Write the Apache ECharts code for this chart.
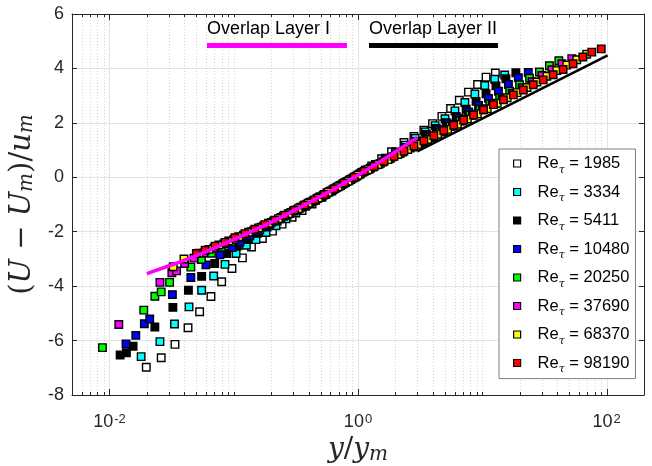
<!DOCTYPE html>
<html><head><meta charset="utf-8">
<script src="https://cdn.jsdelivr.net/npm/echarts@6/dist/echarts.min.js"></script>
<style>html,body{margin:0;padding:0;background:#fff}#c{width:652px;height:466px}</style>
</head><body><div id="c"></div>
<script>
// Series labels (Re_tau) and marker colours
const RE_LABELS = ['1985','3334','5411','10480','20250','37690','68370','98190'];
const COLORS = ['#ffffff','#00ffff','#000000','#0000ff','#00ff00','#ff00ff','#ffff00','#ff0000'];

// Re_tau = 1985
const X_1985 = [0.0198,0.0261,0.0337,0.0429,0.0532,0.0656,0.0800,0.0968,0.1175,0.139,0.170,0.205,0.245,0.295,0.355,0.427,0.513,0.617,0.741,0.891,1.072,1.288,1.549,1.862,2.344,2.818,3.388,3.981,4.732,5.559,6.531,7.745,9.162,10.72,12.74];
const Y_1985 = [-6.98,-6.63,-6.14,-5.53,-4.94,-4.38,-3.84,-3.35,-2.96,-2.56,-2.25,-1.98,-1.72,-1.47,-1.22,-0.98,-0.74,-0.51,-0.27,-0.06,0.18,0.42,0.68,0.94,1.28,1.50,1.73,1.97,2.24,2.53,2.83,3.13,3.41,3.68,3.83];
// Re_tau = 3334
const X_3334 = [0.0180,0.0255,0.0334,0.0437,0.0552,0.0690,0.0851,0.1045,0.1265,0.151,0.182,0.219,0.263,0.316,0.380,0.457,0.550,0.661,0.794,0.955,1.148,1.380,1.660,1.995,2.399,2.884,3.467,4.169,5.012,6.026,7.244,8.710,10.47,12.59,15.14];
const Y_3334 = [-6.59,-6.04,-5.39,-4.76,-4.15,-3.63,-3.20,-2.80,-2.50,-2.29,-2.03,-1.78,-1.53,-1.31,-1.07,-0.85,-0.63,-0.40,-0.19,0.02,0.26,0.47,0.70,0.93,1.18,1.43,1.67,1.90,2.15,2.44,2.75,3.06,3.37,3.60,3.76];
// Re_tau = 5411
const X_5411 = [0.0122,0.0137,0.0155,0.0232,0.0324,0.0432,0.0552,0.0703,0.0879,0.107,0.1288,0.155,0.186,0.224,0.269,0.324,0.389,0.468,0.562,0.676,0.813,0.977,1.175,1.413,1.698,2.042,2.455,2.951,3.548,4.266,5.129,6.166,7.413,8.913,10.72,12.88,15.49,18.62];
const Y_5411 = [-6.53,-6.45,-6.21,-5.50,-4.78,-4.15,-3.64,-3.17,-2.80,-2.53,-2.29,-2.06,-1.83,-1.61,-1.40,-1.19,-0.99,-0.78,-0.58,-0.37,-0.16,0.05,0.26,0.46,0.66,0.87,1.10,1.32,1.57,1.79,2.01,2.24,2.50,2.79,3.07,3.36,3.62,3.84];
// Re_tau = 10480
const X_10480 = [0.0136,0.0163,0.0191,0.0211,0.0321,0.0452,0.0598,0.0775,0.0975,0.1122,0.1349,0.162,0.195,0.234,0.282,0.339,0.407,0.490,0.589,0.708,0.851,1.023,1.230,1.479,1.778,2.138,2.570,3.090,3.715,4.467,5.370,6.457,7.762,9.333,11.22,13.49,16.22,19.50,23.44];
const Y_10480 = [-6.12,-5.81,-5.38,-5.21,-4.31,-3.68,-3.22,-2.85,-2.58,-2.38,-2.15,-1.94,-1.73,-1.53,-1.33,-1.13,-0.93,-0.73,-0.53,-0.32,-0.11,0.11,0.30,0.49,0.68,0.88,1.09,1.30,1.52,1.75,1.96,2.17,2.40,2.64,2.90,3.16,3.41,3.66,3.85];
// Re_tau = 20250
const X_20250 = [0.00879,0.0189,0.0232,0.0261,0.0305,0.0452,0.0550,0.0661,0.0794,0.0955,0.1148,0.138,0.166,0.200,0.240,0.288,0.347,0.417,0.501,0.603,0.724,0.871,1.047,1.259,1.514,1.820,2.188,2.630,3.162,3.802,4.571,5.495,6.607,7.943,9.550,11.48,13.80,16.60,19.95,23.99,28.84,34.67,41.3];
const Y_20250 = [-6.26,-4.88,-4.37,-4.21,-3.86,-3.30,-3.02,-2.79,-2.57,-2.38,-2.19,-2.00,-1.83,-1.66,-1.48,-1.29,-1.10,-0.91,-0.71,-0.50,-0.30,-0.08,0.13,0.33,0.51,0.70,0.88,1.07,1.26,1.46,1.66,1.87,2.08,2.29,2.50,2.70,2.92,3.16,3.40,3.64,3.87,4.10,4.28];
// Re_tau = 37690
const X_37690 = [0.0119,0.0255,0.0318,0.0347,0.0403,0.0479,0.0575,0.0692,0.0832,0.100,0.120,0.145,0.174,0.209,0.251,0.302,0.363,0.437,0.525,0.631,0.759,0.912,1.096,1.318,1.585,1.905,2.291,2.754,3.311,3.981,4.786,5.754,6.918,8.318,10.00,12.02,14.45,17.38,20.89,25.12,30.20,36.31,43.65,52.48];
const Y_37690 = [-5.41,-3.86,-3.51,-3.44,-3.17,-2.97,-2.78,-2.61,-2.45,-2.29,-2.13,-1.96,-1.79,-1.61,-1.43,-1.24,-1.05,-0.86,-0.66,-0.45,-0.24,-0.03,0.19,0.38,0.56,0.75,0.93,1.11,1.30,1.48,1.68,1.87,2.07,2.28,2.48,2.68,2.88,3.08,3.29,3.51,3.74,3.95,4.17,4.36];
// Re_tau = 68370
const X_68370 = [0.0326,0.0398,0.0525,0.0631,0.0759,0.0912,0.1096,0.1318,0.1585,0.1905,0.229,0.275,0.331,0.398,0.479,0.575,0.692,0.832,1.000,1.202,1.445,1.738,2.089,2.512,3.020,3.631,4.365,5.248,6.310,7.586,9.120,10.96,13.18,15.85,19.05,22.91,27.54,33.11,39.81,47.86,57.54,69.18];
const Y_68370 = [-3.29,-3.00,-2.79,-2.65,-2.49,-2.34,-2.18,-2.02,-1.86,-1.69,-1.52,-1.34,-1.15,-0.95,-0.76,-0.55,-0.35,-0.14,0.08,0.28,0.47,0.65,0.84,1.02,1.21,1.39,1.58,1.76,1.95,2.14,2.33,2.52,2.72,2.92,3.11,3.30,3.50,3.71,3.92,4.12,4.32,4.52];
// Re_tau = 98190
const X_98190 = [0.0501,0.0589,0.0708,0.0851,0.1023,0.1230,0.148,0.178,0.214,0.257,0.309,0.372,0.447,0.537,0.646,0.776,0.933,1.122,1.349,1.622,1.950,2.344,2.818,3.388,4.074,4.898,5.888,7.079,8.511,10.23,12.30,14.79,17.78,21.38,25.70,30.90,37.15,44.67,53.70,64.4,76.0,90.6];
const Y_98190 = [-2.80,-2.68,-2.53,-2.39,-2.22,-2.07,-1.91,-1.74,-1.58,-1.39,-1.21,-1.02,-0.83,-0.63,-0.42,-0.21,0.00,0.22,0.40,0.59,0.77,0.96,1.15,1.34,1.53,1.72,1.91,2.10,2.29,2.48,2.67,2.85,3.03,3.21,3.40,3.58,3.77,3.96,4.17,4.42,4.60,4.72];

// Overlap layer lines
const OVERLAP1_X = [0.02,0.035,0.06,0.1,0.18,0.32,0.6,1.1,1.8,3.0];
const OVERLAP1_Y = [-3.54,-3.15,-2.73,-2.29,-1.76,-1.18,-0.51,0.19,0.80,1.46];
const OVERLAP2_X = [3,102];
const OVERLAP2_Y = [0.95,4.48];

// Axis ticks
const X_MIN = 0.005, X_MAX = 200, Y_MIN = -8, Y_MAX = 6, Y_STEP = 2;
const X_MAJOR_TICKS = [0.01, 1, 100];
const X_TICK_EXPONENTS = ['-2', '0', '2'];
const X_MINOR_TICKS = [0.006,0.007,0.008,0.009,0.02,0.03,0.04,0.05,0.06,0.07,0.08,0.09,0.1,0.2,0.3,0.4,0.5,0.6,0.7,0.8,0.9,2,3,4,5,6,7,8,9,10,20,30,40,50,60,70,80,90];

const XS = [X_1985,X_3334,X_5411,X_10480,X_20250,X_37690,X_68370,X_98190];
const YS = [Y_1985,Y_3334,Y_5411,Y_10480,Y_20250,Y_37690,Y_68370,Y_98190];

const AX = '#262626';
const SANS = '"Liberation Sans", Arial, sans-serif';
const SERIF = '"DejaVu Serif", serif';

const chart = echarts.init(document.getElementById('c'), null, {renderer: 'canvas'});

const gridData = X_MAJOR_TICKS.map(v => [v, 1]).concat(X_MINOR_TICKS.map(v => [v, 0]));

const series = [{
  type: 'custom', z: 1, silent: true, clip: false,
  data: gridData,
  renderItem: function (params, api) {
    const v = api.value(0), major = api.value(1) === 1;
    const t = api.coord([v, Y_MAX]), b = api.coord([v, Y_MIN]);
    const x = Math.round(t[0]) + 0.5;
    const tl = major ? 6 : 3;
    return {type: 'group', children: [
      {type: 'line', shape: {x1: x, y1: t[1], x2: x, y2: b[1]},
       style: {stroke: major ? '#e3e3e3' : '#d2d2d2', lineWidth: 1, lineDash: major ? null : [1, 2]}},
      {type: 'line', shape: {x1: x, y1: b[1], x2: x, y2: b[1] - tl}, style: {stroke: AX, lineWidth: 1}},
      {type: 'line', shape: {x1: x, y1: t[1], x2: x, y2: t[1] + tl}, style: {stroke: AX, lineWidth: 1}}
    ]};
  }
}];

RE_LABELS.forEach((name, i) => {
  series.push({
    name: name, type: 'scatter', symbol: 'rect', symbolSize: 7.5, z: 2,
    itemStyle: {color: COLORS[i], borderColor: '#000', borderWidth: 1.4, opacity: 1},
    data: XS[i].map((x, k) => [x, YS[i][k]])
  });
});

series.push({
  type: 'line', z: 3, silent: true, symbol: 'none', showSymbol: false,
  lineStyle: {color: '#ff00ff', width: 3.5},
  data: OVERLAP1_X.map((x, k) => [x, OVERLAP1_Y[k]])
});
series.push({
  type: 'line', z: 3, silent: true, symbol: 'none', showSymbol: false,
  lineStyle: {color: '#000000', width: 2.5},
  data: OVERLAP2_X.map((x, k) => [x, OVERLAP2_Y[k]])
});

const option = {
  animation: false,
  backgroundColor: '#ffffff',
  textStyle: {fontFamily: SANS},
  grid: {left: 72, right: 8, top: 14, bottom: 71, containLabel: false, outerBoundsMode: 'none'},
  xAxis: [{
    type: 'log', logBase: 10, min: X_MIN, max: X_MAX, position: 'bottom',
    axisLine: {show: true, onZero: false, lineStyle: {color: AX, width: 1}},
    axisTick: {show: false}, splitLine: {show: false}, minorTick: {show: false},
    axisLabel: {
      show: true, interval: 0, margin: 18, showMinLabel: false, showMaxLabel: false,
      formatter: function (v) {
        for (let i = 0; i < X_MAJOR_TICKS.length; i++) {
          if (Math.abs(Math.log10(v) - Math.log10(X_MAJOR_TICKS[i])) < 1e-6)
            return '{b|10}{e|' + X_TICK_EXPONENTS[i] + '}';
        }
        return '';
      },
      rich: {
        b: {fontSize: 18, fontFamily: SANS, color: AX, lineHeight: 18, verticalAlign: 'bottom'},
        e: {fontSize: 13, fontFamily: SANS, color: AX, lineHeight: 13, verticalAlign: 'top', padding: [0, 0, 10, 1]}
      }
    },
    name: '{i|y}{p|/}{i|y}{s|m}', nameLocation: 'middle', nameGap: 40, nameMoveOverlap: false,
    nameTextStyle: {
      rich: {
        i: {fontFamily: SERIF, fontStyle: 'italic', fontSize: 28, color: AX, lineHeight: 30},
        p: {fontFamily: SERIF, fontSize: 28, color: AX, lineHeight: 30},
        s: {fontFamily: SERIF, fontStyle: 'italic', fontSize: 20, color: AX, lineHeight: 20, verticalAlign: 'bottom', padding: [14, 0, 0, 0]}
      }
    }
  }, {
    type: 'log', logBase: 10, min: X_MIN, max: X_MAX, position: 'top',
    axisLine: {show: true, onZero: false, lineStyle: {color: AX, width: 1}},
    axisTick: {show: false}, axisLabel: {show: false}, splitLine: {show: false}
  }],
  yAxis: [{
    type: 'value', min: Y_MIN, max: Y_MAX, interval: Y_STEP, position: 'left',
    axisLine: {show: true, onZero: false, lineStyle: {color: AX, width: 1}},
    axisTick: {show: true, inside: true, length: 5, lineStyle: {color: AX}},
    axisLabel: {fontSize: 18, color: AX, margin: 8, fontFamily: SANS},
    splitLine: {show: true, lineStyle: {color: '#e3e3e3', width: 1}},
    name: '{p|(}{i|U}{p| − }{i|U}{s|m}{p|)/}{i|u}{s|m}', nameLocation: 'middle', nameGap: 24, nameRotate: 90,
    nameTextStyle: {
      rich: {
        i: {fontFamily: SERIF, fontStyle: 'italic', fontSize: 29, color: AX, lineHeight: 30},
        p: {fontFamily: SERIF, fontSize: 29, color: AX, lineHeight: 30},
        s: {fontFamily: SERIF, fontStyle: 'italic', fontSize: 20, color: AX, lineHeight: 20, verticalAlign: 'bottom', padding: [14, 0, 0, 0]}
      }
    }
  }, {
    type: 'value', min: Y_MIN, max: Y_MAX, interval: Y_STEP, position: 'right',
    axisLine: {show: true, onZero: false, lineStyle: {color: AX, width: 1}},
    axisTick: {show: true, inside: true, length: 5, lineStyle: {color: AX}},
    axisLabel: {show: false}, splitLine: {show: false}
  }],
  legend: {
    data: RE_LABELS, orient: 'vertical', left: 499, top: 149,
    itemWidth: 7, itemHeight: 7, itemGap: 3.5, icon: 'rect',
    padding: [1.5, 6, 3.6, 14], backgroundColor: '#ffffff', borderColor: '#7f7f7f', borderWidth: 1,
    itemStyle: {borderColor: '#000', borderWidth: 1.2},
    formatter: function (name) { return '{a|Re}{s|τ}{a| = ' + name + '}'; },
    textStyle: {
      rich: {
        a: {fontSize: 16.5, fontFamily: SANS, color: '#000', lineHeight: 24},
        s: {fontSize: 11, fontFamily: SERIF, fontStyle: 'italic', color: '#000', lineHeight: 10, verticalAlign: 'bottom', padding: [14, 0, 0, 0]}
      },
      padding: [0, 0, 0, 12]
    }
  },
  graphic: [
    {type: 'text', z: 100, x: 207, y: 28.6, style: {text: 'Overlap Layer I', font: '18px ' + SANS, fill: '#000', verticalAlign: 'middle', align: 'left'}},
    {type: 'rect', z: 100, shape: {x: 207, y: 43, width: 140, height: 5}, style: {fill: '#ff00ff'}},
    {type: 'text', z: 100, x: 369, y: 28.6, style: {text: 'Overlap Layer II', font: '18px ' + SANS, fill: '#000', verticalAlign: 'middle', align: 'left'}},
    {type: 'rect', z: 100, shape: {x: 369, y: 43, width: 129, height: 5}, style: {fill: '#000000'}}
  ],
  series: series
};
chart.setOption(option);
</script>
</body></html>
